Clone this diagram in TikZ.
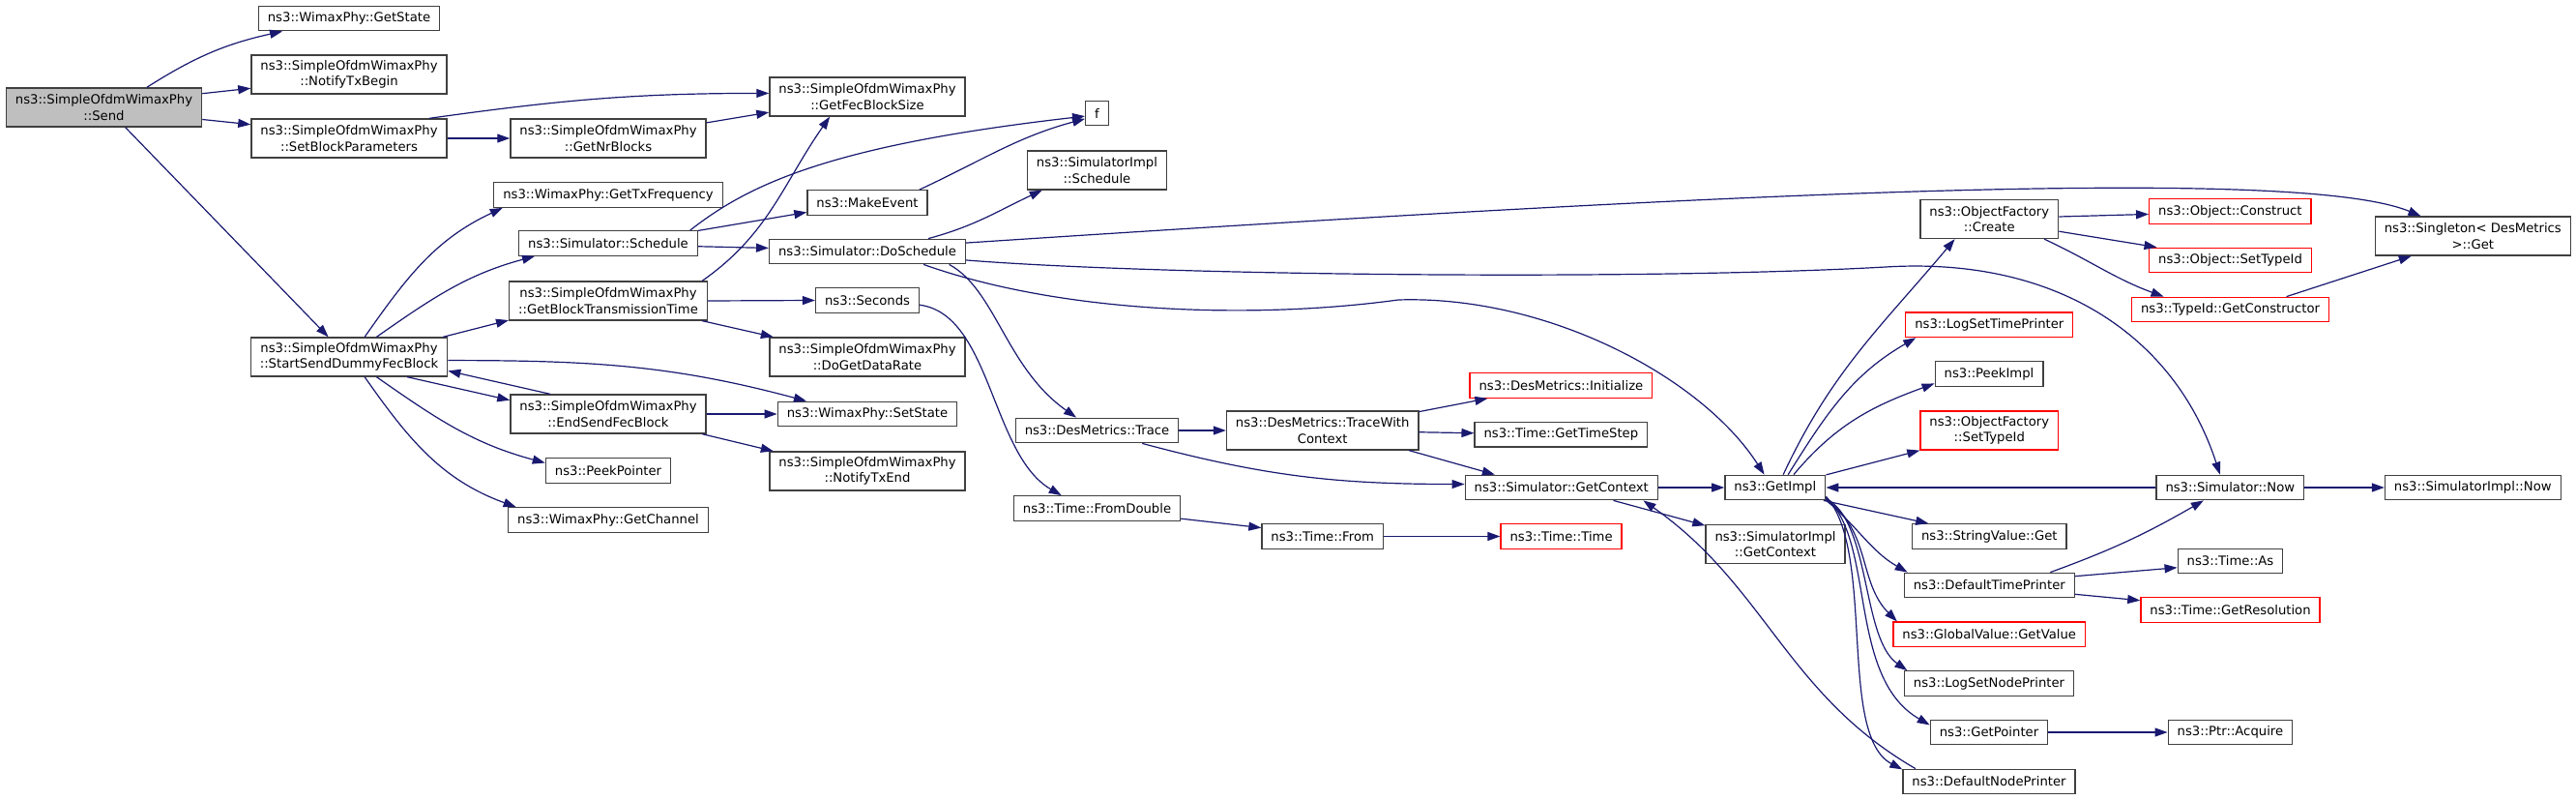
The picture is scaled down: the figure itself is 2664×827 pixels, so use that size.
\documentclass[tikz,border=0pt]{standalone}
\usepackage{fontspec}
\setmainfont{DejaVu Sans}
\usetikzlibrary{arrows.meta}

\begin{document}
\begin{tikzpicture}
\definecolor{edgeblue}{RGB}{25,25,112}
\definecolor{boxgray}{RGB}{64,64,64}
\definecolor{boxred}{RGB}{255,0,0}
\definecolor{rootfill}{RGB}{191,191,191}
\tikzstyle{fn} = [rectangle, draw=boxgray, line width=1.3pt, fill=white,
    font=\fontsize{13.2}{16.5}\selectfont, inner xsep=9.5pt, inner ysep=0pt,
    minimum height=25.5pt, align=center]
\tikzstyle{fntwo} = [fn, minimum height=40pt]
\tikzstyle{fnred} = [fn, draw=boxred]
\tikzstyle{fnredtwo} = [fntwo, draw=boxred]
\tikzstyle{fnroot} = [fntwo, fill=rootfill]
\tikzstyle{call} = [line width=1.2pt, -{Triangle[length=13pt,width=9pt]}, edgeblue]
\begin{scope}[x=1pt,y=1pt]
\useasboundingbox (0,0) rectangle (2664,-827);

\node (send)[fnroot] at (107.5,-111) {ns3::SimpleOfdmWimaxPhy\\::Send};
\node (getstate)[fn] at (361,-19) {ns3::WimaxPhy::GetState};
\node (notifybegin)[fntwo] at (361,-77) {ns3::SimpleOfdmWimaxPhy\\::NotifyTxBegin};
\node (setblock)[fntwo] at (361,-143) {ns3::SimpleOfdmWimaxPhy\\::SetBlockParameters};
\node (startsend)[fntwo] at (361,-369) {ns3::SimpleOfdmWimaxPhy\\::StartSendDummyFecBlock};
\node (getfec)[fntwo] at (897,-100) {ns3::SimpleOfdmWimaxPhy\\::GetFecBlockSize};
\node (getnr)[fntwo] at (629,-143) {ns3::SimpleOfdmWimaxPhy\\::GetNrBlocks};
\node (gettxfreq)[fn] at (629,-201.5) {ns3::WimaxPhy::GetTxFrequency};
\node (schedule)[fn] at (629,-251.5) {ns3::Simulator::Schedule};
\node (getbtt)[fntwo] at (629,-311) {ns3::SimpleOfdmWimaxPhy\\::GetBlockTransmissionTime};
\node (endsend)[fntwo] at (629,-428) {ns3::SimpleOfdmWimaxPhy\\::EndSendFecBlock};
\node (peekptr)[fn] at (629,-486.5) {ns3::PeekPointer};
\node (getchannel)[fn] at (629,-537.5) {ns3::WimaxPhy::GetChannel};
\node (makeevent)[fn] at (897,-209.5) {ns3::MakeEvent};
\node (doschedule)[fn] at (897,-260) {ns3::Simulator::DoSchedule};
\node (seconds)[fn] at (897,-310.5) {ns3::Seconds};
\node (getrate)[fntwo] at (897,-369) {ns3::SimpleOfdmWimaxPhy\\::DoGetDataRate};
\node (setstate)[fn] at (897,-428) {ns3::WimaxPhy::SetState};
\node (notifyend)[fntwo] at (897,-487) {ns3::SimpleOfdmWimaxPhy\\::NotifyTxEnd};
\node (f)[fn] at (1134.5,-117) {f};
\node (simschedule)[fntwo] at (1134.5,-176) {ns3::SimulatorImpl\\::Schedule};
\node (trace)[fn] at (1134.5,-445) {ns3::DesMetrics::Trace};
\node (fromdouble)[fn] at (1134.5,-525.5) {ns3::Time::FromDouble};
\node (tracectx)[fntwo] at (1367.7,-445) {ns3::DesMetrics::TraceWith\\Context};
\node (timefrom)[fn] at (1367.7,-554.5) {ns3::Time::From};
\node (initialize)[fnred] at (1614.4,-398.5) {ns3::DesMetrics::Initialize};
\node (timestep)[fn] at (1614.4,-449.3) {ns3::Time::GetTimeStep};
\node (getcontext)[fn] at (1614.8,-504) {ns3::Simulator::GetContext};
\node (timetime)[fnred] at (1614.6,-554.5) {ns3::Time::Time};
\node (getimpl)[fn] at (1835.8,-504) {ns3::GetImpl};
\node (simimplctx)[fntwo] at (1836,-562.7) {ns3::SimulatorImpl\\::GetContext};
\node (ofcreate)[fntwo] at (2057.3,-226.5) {ns3::ObjectFactory\\::Create};
\node (logtime)[fnred] at (2057.3,-335.8) {ns3::LogSetTimePrinter};
\node (peekimpl)[fn] at (2057,-386.5) {ns3::PeekImpl};
\node (ofsettype)[fnredtwo] at (2057.3,-445) {ns3::ObjectFactory\\::SetTypeId};
\node (stringget)[fn] at (2057.3,-554.5) {ns3::StringValue::Get};
\node (deftime)[fn] at (2057.3,-605) {ns3::DefaultTimePrinter};
\node (globalget)[fnred] at (2057.2,-655.8) {ns3::GlobalValue::GetValue};
\node (lognode)[fn] at (2057,-706.5) {ns3::LogSetNodePrinter};
\node (getptr)[fn] at (2057,-757) {ns3::GetPointer};
\node (defnode)[fn] at (2057,-808) {ns3::DefaultNodePrinter};
\node (construct)[fnred] at (2306.4,-218.5) {ns3::Object::Construct};
\node (objsettype)[fnred] at (2306.5,-269) {ns3::Object::SetTypeId};
\node (getctor)[fnred] at (2306.5,-320) {ns3::TypeId::GetConstructor};
\node (simnow)[fn] at (2306.3,-504) {ns3::Simulator::Now};
\node (timeas)[fn] at (2306.5,-580) {ns3::Time::As};
\node (getres)[fnred] at (2306.5,-630.5) {ns3::Time::GetResolution};
\node (ptracq)[fn] at (2306.4,-757) {ns3::Ptr::Acquire};
\node (singleton)[fntwo] at (2557.3,-244) {ns3::Singleton< DesMetrics\\>::Get};
\node (simimplnow)[fn] at (2557.3,-504) {ns3::SimulatorImpl::Now};

\draw [call] (send.25) to[bend left=10] (getstate.191);
\draw [call] (send.8) -- (notifybegin.188);
\draw [call] (send.-7) -- (setblock.172);
\draw [call] (send.-43) -- (startsend.136);
\draw [call] (setblock.14) to[out=8,in=180] (getfec.178);
\draw [call] (setblock.east) -- (getnr.west);
\draw [call] (getnr.9) -- (getfec.189);
\draw [call] (startsend.52) to[out=55,in=205] (gettxfreq.187);
\draw [call] (startsend.36) to[out=35,in=195] (schedule.190);
\draw [call] (startsend.12) -- (getbtt.191);
\draw [call] (startsend.-2) to[out=0,in=165] (setstate.168);
\draw [call] (startsend.-19) -- (endsend.172);
\draw [call] (endsend.161) -- (startsend.-8);
\draw [call] (startsend.-36) to[out=-35,in=165] (peekptr.173);
\draw [call] (startsend.-52) to[out=-55,in=160] (getchannel.172);
\draw [call] (schedule.8) -- (makeevent.189);
\draw [call] (schedule.-2) -- (doschedule.178);
\draw [call] (schedule.9) .. controls (775,-190) and (860,-150) .. (f.194);
\draw [call] (makeevent.14) to[out=25,in=195] (f.205);
\draw [call] (getbtt.12) to[out=35,in=235] (getfec.208);
\draw [call] (getbtt.east) -- (seconds.west);
\draw [call] (getbtt.-12) -- (getrate.168);
\draw [call] (seconds.-5) .. controls (1025,-325) and (1025,-470) .. (fromdouble.160);
\draw [call] (endsend.east) -- (setstate.west);
\draw [call] (endsend.-12) -- (notifyend.168);
\draw [call] (doschedule.12) to[out=15,in=205] (simschedule.200);
\draw [call] (doschedule.5) .. controls (1700,-205) and (2370,-168) .. (singleton.159);
\draw [call] (doschedule.-5) .. controls (1200,-285) and (1700,-290) .. (1950,-276)
    .. controls (2130,-265) and (2250,-350) .. (simnow.128);
\draw [call] (doschedule.-13) .. controls (1100,-325) and (1300,-330) .. (1446,-310)
    .. controls (1600,-305) and (1760,-390) .. (getimpl.130);
\draw [call] (doschedule.-9) .. controls (1030,-300) and (1040,-380) .. (trace.148);
\draw [call] (trace.east) -- (tracectx.west);
\draw [call] (trace.-16) to[out=-15,in=180] (getcontext.178);
\draw [call] (tracectx.11) -- (initialize.190);
\draw [call] (tracectx.-1) -- (timestep.179);
\draw [call] (tracectx.-13) -- (getcontext.169);
\draw [call] (fromdouble.-7) -- (timefrom.172);
\draw [call] (timefrom.east) -- (timetime.west);
\draw [call] (getcontext.east) -- (getimpl.west);
\draw [call] (getcontext.-14) -- (simimplctx.165);
\draw [call] (defnode.170) to[out=150,in=-35] (getcontext.-9);
\draw [call] (getimpl.58) to[out=65,in=230] (ofcreate.210);
\draw [call] (getimpl.45) to[out=58,in=210] (logtime.190);
\draw [call] (getimpl.35) to[out=50,in=200] (peekimpl.190);
\draw [call] (getimpl.14) -- (ofsettype.196);
\draw [call] (simnow.west) -- (getimpl.east);
\draw [call] (getimpl.-15) -- (stringget.168);
\draw [call] (getimpl.-14) to[out=-40,in=150] (deftime.171);
\draw [call] (getimpl.-13) to[out=-35,in=135] (globalget.172);
\draw [call] (getimpl.-12) .. controls (1935,-540) and (1925,-660) .. (lognode.171);
\draw [call] (getimpl.-11) .. controls (1940,-560) and (1910,-700) .. (getptr.173);
\draw [call] (getimpl.-10) .. controls (1940,-570) and (1900,-760) .. (defnode.172);
\draw [call] (simnow.east) -- (simimplnow.west);
\draw [call] (deftime.12) to[out=20,in=210] (simnow.206);
\draw [call] (deftime.6) -- (timeas.187);
\draw [call] (deftime.-6) -- (getres.174);
\draw [call] (getptr.east) -- (ptracq.west);
\draw [call] (ofcreate.2) -- (construct.182);
\draw [call] (ofcreate.-10) -- (objsettype.170);
\draw [call] (ofcreate.-20) to[out=-25,in=160] (getctor.169);
\draw [call] (getctor.13) -- (singleton.198);
\end{scope}
\end{tikzpicture}
\end{document}
